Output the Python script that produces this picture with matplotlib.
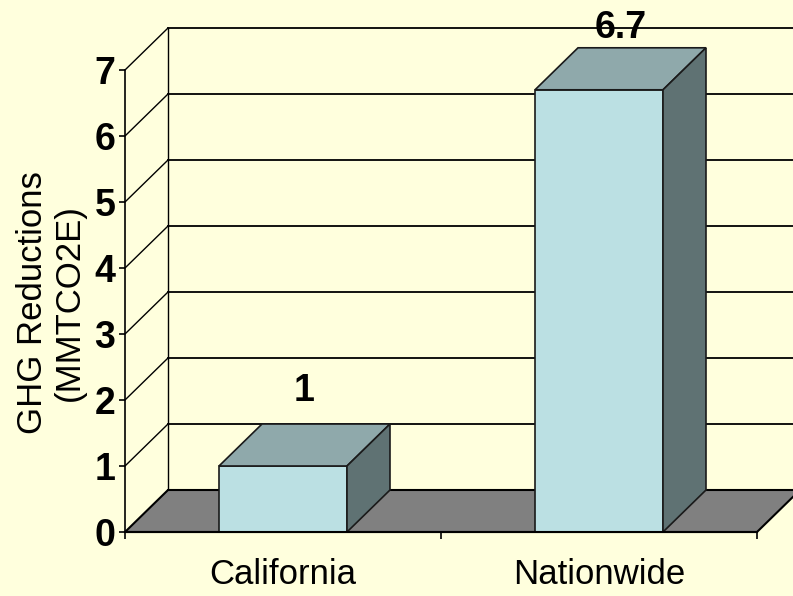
import matplotlib
matplotlib.use("Agg")
import matplotlib.pyplot as plt
from matplotlib.patches import Polygon
from matplotlib import font_manager

categories = ["California", "Nationwide"]
values = [1.0, 6.7]
value_labels = ["1", "6.7"]
y_ticks = [0, 1, 2, 3, 4, 5, 6, 7]

BG = "#FFFFDD"
FRONT = "#BBE0E3"
TOP = "#8FA9AB"
SIDE = "#5F7273"
FLOOR = "#808080"

# narrow font if present, else regular Arial-like
try:
    font_manager.findfont("Liberation Sans Narrow", fallback_to_default=False)
    NARROW = "Liberation Sans Narrow"
except Exception:
    NARROW = "Liberation Sans"

fig = plt.figure(figsize=(7.93, 5.96), dpi=100, facecolor=BG)
ax = fig.add_axes([125 / 793, 64 / 596, 632 / 793, 462 / 596])
ax.set_facecolor("none")
ax.set_xlim(0, 2)
ax.set_ylim(0, 7)

# depth offset of the 3d box, in data units
DX = 43 / 316
DY = 42 / 66
ymax = y_ticks[-1]
n = len(categories)

# back wall + left wall lines
for v in y_ticks:
    ax.plot([DX, n + DX], [v + DY, v + DY], color="black", lw=1.3, clip_on=False, zorder=1)
    if v > 0:
        ax.plot([0, DX], [v, v + DY], color="black", lw=1.0, clip_on=False, zorder=1)
ax.plot([DX, DX], [DY, ymax + DY], color="black", lw=1.0, clip_on=False, zorder=1)

# floor
floor = Polygon([(0, 0), (n, 0), (n + DX, DY), (DX, DY)], closed=True,
                facecolor=FLOOR, edgecolor="black", lw=1.5, clip_on=False, zorder=2)
ax.add_patch(floor)

# 3d bars
bw = 0.405
for i, v in enumerate(values):
    x0 = i + 0.5 - bw / 2
    x1 = i + 0.5 + bw / 2
    front = Polygon([(x0, 0), (x1, 0), (x1, v), (x0, v)], closed=True,
                    facecolor=FRONT, edgecolor="#1a1a1a", lw=1.2, clip_on=False, zorder=3)
    top = Polygon([(x0, v), (x1, v), (x1 + DX, v + DY), (x0 + DX, v + DY)], closed=True,
                  facecolor=TOP, edgecolor="#1a1a1a", lw=1.2, clip_on=False, zorder=3)
    side = Polygon([(x1, 0), (x1 + DX, DY), (x1 + DX, v + DY), (x1, v)], closed=True,
                   facecolor=SIDE, edgecolor="#1a1a1a", lw=1.2, clip_on=False, zorder=3)
    for p in (front, top, side):
        ax.add_patch(p)
    ax.text(i + 0.5 + DX / 2, min(v + DY + 0.22, 7.36), value_labels[i],
            ha="center", va="bottom", fontsize=27, fontweight="bold",
            family=NARROW, zorder=5, clip_on=False)

# axes
for s in ("top", "right"):
    ax.spines[s].set_visible(False)
ax.spines["left"].set_linewidth(1.2)
ax.spines["bottom"].set_linewidth(1.5)
ax.spines["left"].set_zorder(4)
ax.spines["bottom"].set_zorder(4)

ax.set_yticks(y_ticks)
ax.set_yticklabels([str(t) for t in y_ticks], fontsize=27,
                   fontweight="bold", family=NARROW)
ax.tick_params(axis="y", length=4, width=1.2, pad=3)

ax.set_xticks(range(n + 1))
ax.set_xticklabels([""] * (n + 1))
ax.tick_params(axis="x", which="major", length=5, width=1.2)
ax.set_xticks([i + 0.5 for i in range(n)], minor=True)
ax.set_xticklabels(categories, minor=True, fontsize=25, family=NARROW)
ax.tick_params(axis="x", which="minor", length=0, pad=19)

fig.text(51 / 793, 1 - 303 / 596, "GHG Reductions\n(MMTCO2E)", rotation=90,
         ha="center", va="center", multialignment="center",
         fontsize=25, family="Liberation Sans", linespacing=1.15)

fig.savefig("out.png", dpi=100, facecolor=BG)
